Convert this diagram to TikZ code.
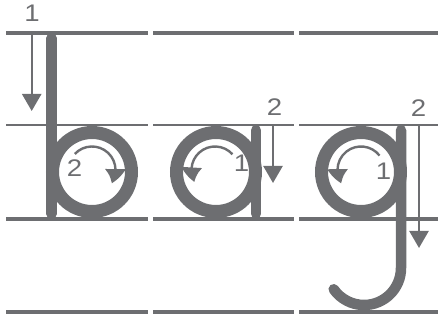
\documentclass[tikz,border=0pt]{standalone}
\usepackage{fontspec}
\setmainfont{Liberation Sans}[FakeStretch=1.15]
\usetikzlibrary{arrows.meta,bending}
\definecolor{ink}{HTML}{6D6E71}
\begin{document}
\begin{tikzpicture}[x=1pt,y=1pt,
  rule/.style={ink,line width=4pt},
  midrule/.style={ink,line width=1.2pt},
  ring/.style={ink,line width=13pt},
  stem/.style={ink,line width=10.5pt,line cap=round},
  guide/.style={ink,line width=2.4pt,-{Triangle[length=17pt,width=19pt]}},
  curguide/.style={ink,line width=2.4pt,-{Triangle[length=15pt,width=20pt,bend]}},
  lbl/.style={ink,inner sep=0pt,font=\fontsize{24}{24}\selectfont}]
\useasboundingbox (0,0) rectangle (440,322);
% ruled lines
\foreach \a/\b in {6/148,153/294,299/438}{
  \draw[rule] (\a,289) -- (\b,289);
  \draw[midrule] (\a,197) -- (\b,197);
  \draw[rule] (\a,103) -- (\b,103);
  \draw[rule] (\a,10.3) -- (\b,10.3);
}
% letter b
\draw[ring] (92,150) circle (39.5);
\draw[stem] (51.5,283.75) -- (51.5,108.25);
% letter a
\draw[ring] (216,150) circle (39.5);
\draw[stem] (256,191.75) -- (256,108.25);
% letter g
\draw[ring] (361,150) circle (39.5);
\draw[stem] (401,191.75) -- (401,54) arc (0:-145:37);
% stroke guides
\coordinate (b1s) at (31.7,289);
\coordinate (b1e) at (31.7,211);
\draw[guide] (b1s) -- (b1e);
\coordinate (a2s) at (273,197);
\coordinate (a2e) at (273,139);
\draw[guide] (a2s) -- (a2e);
\coordinate (g2s) at (419,197);
\coordinate (g2e) at (419,74);
\draw[guide] (g2s) -- (g2e);
\draw[curguide] ([shift={(137:23.5)}]92,152) arc (137:-34:23.5);
\draw[curguide] ([shift={(42:23.5)}]215,152) arc (42:210:23.5);
\draw[curguide] ([shift={(38:23.5)}]361,152) arc (38:214:23.5);
% labels
\node[lbl] (lb1) at (32,309) {1};
\node[lbl] (lb2) at (74.5,153.5) {2};
\node[lbl] (la1) at (241.5,159) {1};
\node[lbl] (la2) at (274.5,215) {2};
\node[lbl] (lg1) at (383.5,151) {1};
\node[lbl] (lg2) at (418.5,214) {2};
\end{tikzpicture}
\end{document}
